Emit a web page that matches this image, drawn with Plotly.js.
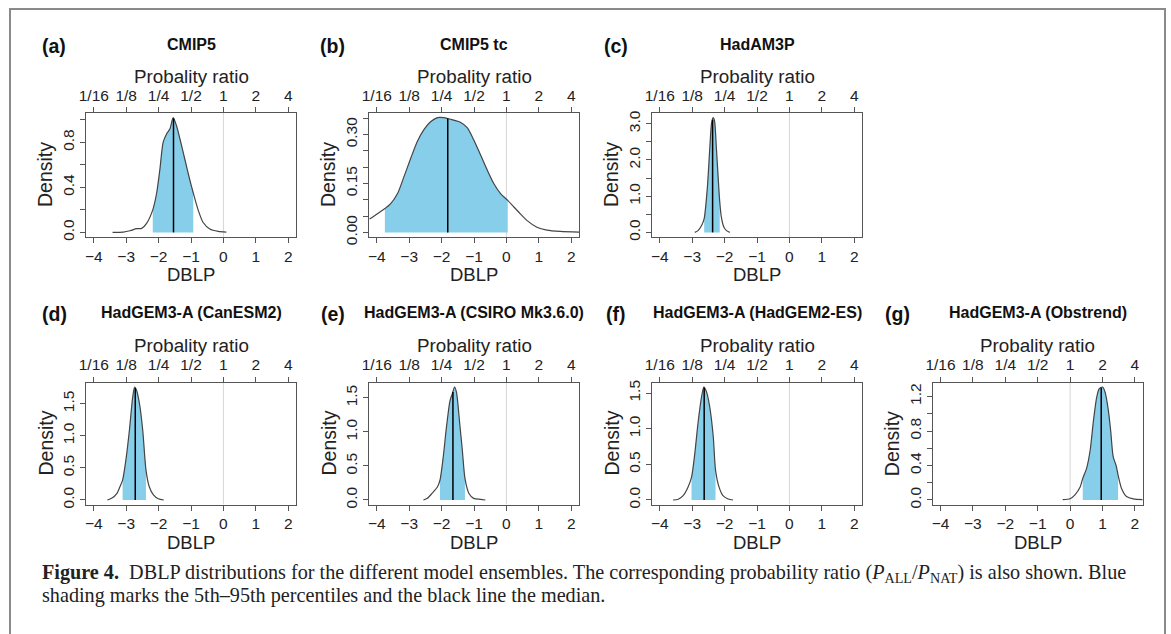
<!DOCTYPE html>
<html><head><meta charset="utf-8">
<script src="https://cdn.plot.ly/plotly-3.0.1.min.js"></script>
<style>html,body{margin:0;padding:0;background:#fff}#chart{width:1171px;height:634px}</style>
</head><body><div id="chart"></div>
<script>
// ---- data ----
const dblpTicks = [-4, -3, -2, -1, 0, 1, 2];
const ratioTickLabels = ['1/16', '1/8', '1/4', '1/2', '1', '2', '4'];
const panelLetters = ['(a)', '(b)', '(c)', '(d)', '(e)', '(f)', '(g)'];
const panelTitles = ['CMIP5', 'CMIP5 tc', 'HadAM3P', 'HadGEM3-A (CanESM2)',
  'HadGEM3-A (CSIRO Mk3.6.0)', 'HadGEM3-A (HadGEM2-ES)', 'HadGEM3-A (Obstrend)'];

const dblpA = [-3.42,-3.09,-2.88,-2.68,-2.52,-2.37,-2.18,-2.06,-1.96,-1.86,-1.75,-1.65,-1.55,-1.45,-1.34,-1.19,-1.04,-0.93,-0.78,-0.63,-0.42,-0.16,0.09];
const densA = [0,0.003,0.015,0.033,0.036,0.08,0.20,0.35,0.56,0.80,0.876,0.92,1.02,0.95,0.83,0.65,0.47,0.35,0.20,0.09,0.03,0.009,0.003];

const dblpB = [-4.22,-3.98,-3.75,-3.57,-3.36,-3.16,-2.95,-2.75,-2.54,-2.34,-2.13,-1.93,-1.62,-1.42,-1.21,-1.01,-0.80,-0.59,-0.39,-0.18,0.04,0.23,0.43,0.64,0.94,1.25,1.66,2.24];
const densB = [0.041,0.057,0.073,0.088,0.119,0.171,0.228,0.279,0.316,0.339,0.352,0.352,0.344,0.338,0.321,0.284,0.238,0.191,0.150,0.119,0.098,0.078,0.057,0.036,0.016,0.007,0.003,0.001];

const dblpC = [-2.92,-2.82,-2.71,-2.63,-2.53,-2.46,-2.40,-2.35,-2.31,-2.25,-2.15,-2.10,-2.02,-1.94,-1.84];
const densC = [0,0.05,0.19,0.38,1.26,2.28,3.03,3.17,3.08,2.28,0.85,0.42,0.14,0.05,0];

const dblpD = [-3.58,-3.45,-3.29,-3.19,-3.11,-3.01,-2.90,-2.80,-2.74,-2.68,-2.59,-2.49,-2.39,-2.29,-2.16,-2.01,-1.84];
const densD = [0,0.026,0.10,0.21,0.31,0.62,1.09,1.60,1.76,1.71,1.50,1.09,0.47,0.21,0.08,0.02,0];

const dblpE = [-2.56,-2.44,-2.29,-2.13,-2.05,-1.95,-1.85,-1.74,-1.67,-1.60,-1.54,-1.44,-1.36,-1.28,-1.16,-1.01,-0.80,-0.65];
const densE = [0,0.024,0.10,0.19,0.29,0.63,1.07,1.46,1.56,1.66,1.58,1.12,0.73,0.32,0.10,0.024,0.01,0];

const dblpF = [-3.59,-3.43,-3.28,-3.13,-3.02,-2.92,-2.82,-2.71,-2.64,-2.56,-2.46,-2.35,-2.28,-2.17,-2.05,-1.89,-1.74];
const densF = [0,0.01,0.06,0.18,0.32,0.65,1.08,1.45,1.585,1.52,1.31,0.89,0.42,0.18,0.06,0.014,0];

const dblpG = [-0.23,0,0.15,0.31,0.39,0.51,0.62,0.72,0.82,0.90,1.0,1.08,1.18,1.25,1.33,1.42,1.48,1.59,1.74,1.95,2.24];
const densG = [0.004,0.015,0.06,0.15,0.25,0.37,0.58,0.92,1.19,1.29,1.31,1.25,1.04,0.81,0.50,0.40,0.29,0.13,0.04,0.012,0.003];

const pct05 = [-2.18, -3.75, -2.63, -3.11, -2.05, -3.02, 0.39];
const medians = [-1.54, -1.81, -2.37, -2.72, -1.65, -2.63, 0.96];
const pct95 = [-0.93, 0.04, -2.15, -2.39, -1.28, -2.28, 1.48];

const yTicksA = [0, 0.2, 0.4, 0.6, 0.8, 1.0];      const yLabelsA = ['0.0', '', '0.4', '', '0.8', ''];
const yTicksB = [0, 0.05, 0.10, 0.15, 0.20, 0.25, 0.30, 0.35]; const yLabelsB = ['0.00', '', '', '0.15', '', '', '0.30', ''];
const yTicksC = [0, 0.5, 1, 1.5, 2, 2.5, 3];      const yLabelsC = ['0.0', '', '1.0', '', '2.0', '', '3.0'];
const yTicksD = [0, 0.5, 1, 1.5];                 const yLabelsD = ['0.0', '0.5', '1.0', '1.5'];
const yTicksE = [0, 0.5, 1, 1.5];                 const yLabelsE = ['0.0', '0.5', '1.0', '1.5'];
const yTicksF = [0, 0.5, 1, 1.5];                 const yLabelsF = ['0.0', '0.5', '1.0', '1.5'];
const yTicksG = [0, 0.2, 0.4, 0.6, 0.8, 1.0, 1.2]; const yLabelsG = ['0.0', '', '0.4', '', '0.8', '', '1.2'];

const captionLine1 = '<b>Figure 4.</b>  DBLP distributions for the different model ensembles. The corresponding probability ratio (<i>P</i><sub>ALL</sub>/<i>P</i><sub>NAT</sub>) is also shown. Blue';
const captionLine2 = 'shading marks the 5th–95th percentiles and the black line the median.';

// ---- geometry (pixels) ----
const W = 1171, H = 634;
const colLeft = [86, 369, 652, 932.7];
const plotW = 210;
const rowTop = [113, 382.5], rowBot = [237, 504.5];
const letterLeft = [40, 318, 602, 40, 319, 604, 883];
const panelPos = [[0,0],[0,1],[0,2],[1,0],[1,1],[1,2],[1,3]];

const xs = [dblpA, dblpB, dblpC, dblpD, dblpE, dblpF, dblpG];
const ys = [densA, densB, densC, densD, densE, densF, densG];
const yTicks = [yTicksA, yTicksB, yTicksC, yTicksD, yTicksE, yTicksF, yTicksG];
const yLabels = [yLabelsA, yLabelsB, yLabelsC, yLabelsD, yLabelsE, yLabelsF, yLabelsG];

const FONT = 'Liberation Sans, Arial, sans-serif';
const SERIF = 'Liberation Serif, Times New Roman, serif';
const xRange = [-4.24, 2.24];
const px = v => v / W, py = v => 1 - v / H;

function interp(xa, ya, x0) {
  for (let i = 0; i < xa.length - 1; i++) {
    if (x0 >= xa[i] && x0 <= xa[i + 1]) {
      const t = (x0 - xa[i]) / (xa[i + 1] - xa[i]);
      return ya[i] + t * (ya[i + 1] - ya[i]);
    }
  }
  return 0;
}

const traces = [], shapes = [], annotations = [];
const layout = {
  width: W, height: H, margin: {l: 0, r: 0, t: 0, b: 0},
  paper_bgcolor: '#fff', plot_bgcolor: '#fff', showlegend: false, hovermode: false,
  font: {family: FONT, color: '#222'}
};

for (let i = 0; i < 7; i++) {
  const k = i + 1;
  const xid = k === 1 ? 'x' : 'x' + k;
  const yid = k === 1 ? 'y' : 'y' + k;
  const topId = 'x' + (k + 7);
  const tickYId = 'y' + (k + 7);
  const [r, c] = panelPos[i];
  const L = colLeft[c], R = L + plotW, T = rowTop[r], B = rowBot[r];
  const xa = xs[i], ya = ys[i];
  const ymax = Math.max(...ya);
  const yRange = [-0.04 * ymax, 1.04 * ymax];

  const shX = [], shY = [];
  xa.forEach((v, j) => { if (v >= pct05[i] - 1e-9 && v <= pct95[i] + 1e-9) { shX.push(v); shY.push(ya[j]); } });

  traces.push({x: shX, y: shY, xaxis: xid, yaxis: yid, type: 'scatter', mode: 'lines',
    fill: 'tozeroy', fillcolor: '#87CEEB', line: {width: 0, shape: 'spline', smoothing: 0.7}});
  traces.push({x: xa, y: ya, xaxis: xid, yaxis: yid, type: 'scatter', mode: 'lines',
    line: {color: '#444', width: 1.2, shape: 'spline', smoothing: 0.7}});
  traces.push({x: [medians[i], medians[i]], y: [0, interp(xa, ya, medians[i])], xaxis: xid, yaxis: yid,
    type: 'scatter', mode: 'lines', line: {color: '#000', width: 1.5}});
  // invisible anchor trace so the top (probability ratio) axis and the tick-only density axis are drawn
  traces.push({x: [dblpTicks[0]], y: [0], xaxis: topId, yaxis: tickYId, type: 'scatter', mode: 'markers',
    marker: {opacity: 0, size: 1}});

  const majorVals = [], majorText = [];
  yTicks[i].forEach((v, j) => { if (yLabels[i][j] !== '') { majorVals.push(v); majorText.push(yLabels[i][j]); } });

  const axKey = k === 1 ? 'xaxis' : 'xaxis' + k;
  const yKey = k === 1 ? 'yaxis' : 'yaxis' + k;
  layout[axKey] = {
    domain: [px(L), px(R)], anchor: yid, range: xRange,
    tickmode: 'array', tickvals: dblpTicks, ticktext: dblpTicks.map(v => v < 0 ? '\u2212' + Math.abs(v) : String(v)),
    ticks: 'outside', ticklen: 5, tickcolor: '#555', tickwidth: 1,
    showline: true, linecolor: '#555', linewidth: 1, mirror: true,
    showgrid: false, zeroline: false, tickfont: {size: 15.5, family: FONT, color: '#222'},
    fixedrange: true
  };
  layout['xaxis' + (k + 7)] = {
    overlaying: xid, side: 'top', anchor: yid, range: xRange,
    tickmode: 'array', tickvals: dblpTicks, ticktext: ratioTickLabels,
    ticks: 'outside', ticklen: 5, tickcolor: '#555', tickwidth: 1,
    showline: false, showgrid: false, zeroline: false,
    tickfont: {size: 15.5, family: FONT, color: '#222'}, fixedrange: true
  };
  layout[yKey] = {
    domain: [py(B), py(T)], anchor: xid, range: yRange,
    tickmode: 'array', tickvals: majorVals, ticktext: majorText, tickangle: -90,
    ticks: 'outside', ticklen: 5, tickcolor: '#555', tickwidth: 1,
    showline: true, linecolor: '#555', linewidth: 1, mirror: true,
    showgrid: false, zeroline: false, tickfont: {size: 15.5, family: FONT, color: '#222'},
    fixedrange: true
  };
  layout['yaxis' + (k + 7)] = {
    overlaying: yid, side: 'left', anchor: xid, range: yRange,
    tickmode: 'array', tickvals: yTicks[i], showticklabels: false,
    ticks: 'outside', ticklen: 5, tickcolor: '#555', tickwidth: 1,
    showline: false, showgrid: false, zeroline: false, fixedrange: true
  };

  shapes.push({type: 'line', xref: xid, yref: yid + ' domain', x0: 0, x1: 0, y0: 0, y1: 1,
    line: {color: '#d6d6d6', width: 1}, layer: 'below'});

  const cx = (L + R) / 2;
  annotations.push({text: '<b>' + panelLetters[i] + '</b>', x: px(letterLeft[i]), y: py(r === 0 ? 46 : 314),
    xref: 'paper', yref: 'paper', xanchor: 'left', yanchor: 'middle', showarrow: false,
    font: {size: 19.5, family: FONT, color: '#111'}});
  annotations.push({text: '<b>' + panelTitles[i] + '</b>', x: px(cx), y: py(r === 0 ? 44 : 312),
    xref: 'paper', yref: 'paper', xanchor: 'center', yanchor: 'middle', showarrow: false,
    font: {size: 16, family: FONT, color: '#111'}});
  annotations.push({text: 'Probality ratio', x: px(cx), y: py(T - 37), xref: 'paper', yref: 'paper',
    xanchor: 'center', yanchor: 'middle', showarrow: false, font: {size: 18.8, family: FONT, color: '#222'}});
  annotations.push({text: 'DBLP', x: px(cx), y: py(B + 37.5), xref: 'paper', yref: 'paper',
    xanchor: 'center', yanchor: 'middle', showarrow: false, font: {size: 18.5, family: FONT, color: '#222'}});
  annotations.push({text: 'Density', x: px(L - 41), y: py((T + B) / 2), xref: 'paper', yref: 'paper',
    xanchor: 'center', yanchor: 'middle', textangle: -90, showarrow: false,
    font: {size: 19.5, family: FONT, color: '#222'}});
}

annotations.push({text: captionLine1, x: px(40), y: py(573), xref: 'paper', yref: 'paper',
  xanchor: 'left', yanchor: 'middle', showarrow: false,
  font: {size: 20.2, family: SERIF, color: '#222'}});
annotations.push({text: captionLine2, x: px(40), y: py(595), xref: 'paper', yref: 'paper',
  xanchor: 'left', yanchor: 'middle', showarrow: false,
  font: {size: 20.2, family: SERIF, color: '#222'}});

shapes.push({type: 'rect', xref: 'paper', yref: 'paper', x0: px(10), x1: px(1165), y0: -0.05, y1: py(9),
  line: {color: '#8a8a8a', width: 2}, fillcolor: 'rgba(0,0,0,0)'});

layout.shapes = shapes;
layout.annotations = annotations;

Plotly.newPlot('chart', traces, layout, {displayModeBar: false, staticPlot: true});
</script>
</body></html>
